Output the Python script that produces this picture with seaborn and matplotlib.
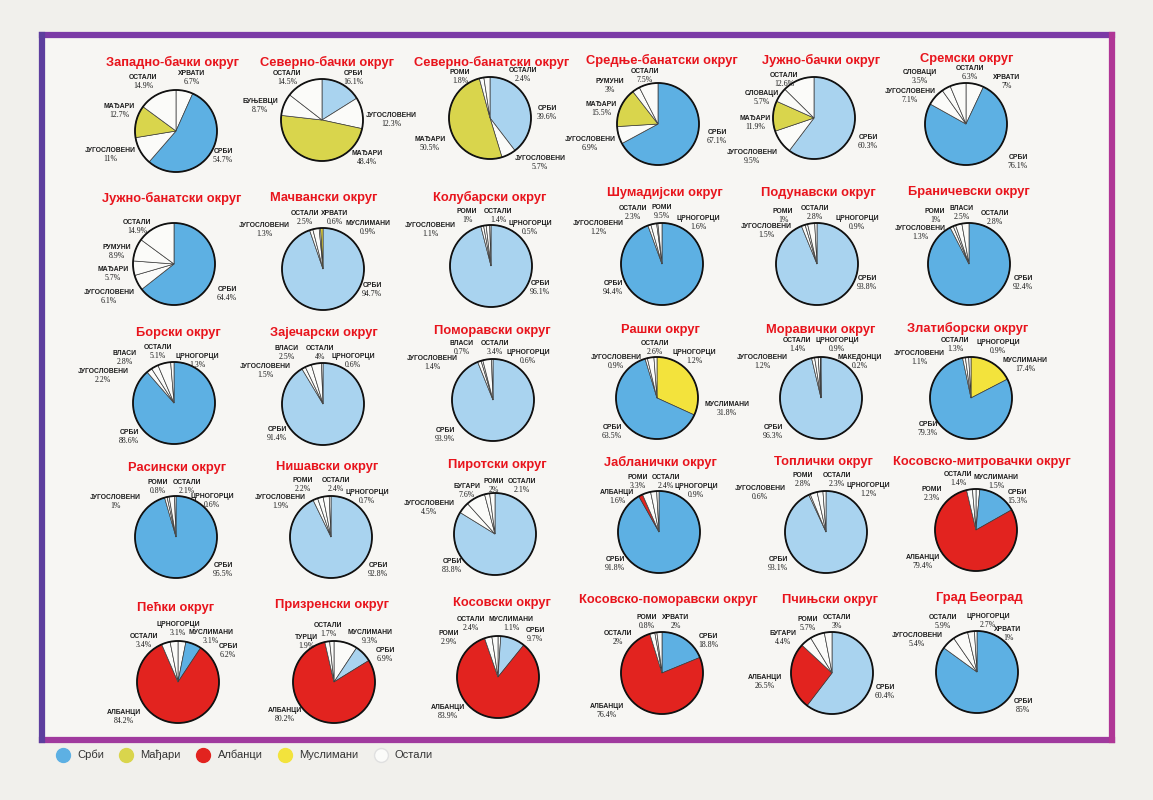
import matplotlib
matplotlib.use("Agg")
import matplotlib.pyplot as plt
from matplotlib.patches import Circle, Rectangle
from matplotlib.lines import Line2D
import seaborn as sns

# districts, ethnic groups (clockwise from 12 o'clock) and shares in %
districts = [
    "Западно-бачки округ", "Северно-бачки округ", "Северно-банатски округ",
    "Средње-банатски округ", "Јужно-бачки округ", "Сремски округ",
    "Јужно-банатски округ", "Мачвански округ", "Колубарски округ",
    "Шумадијски округ", "Подунавски округ", "Браничевски округ",
    "Борски округ", "Зајечарски округ", "Поморавски округ",
    "Рашки округ", "Моравички округ", "Златиборски округ",
    "Расински округ", "Нишавски округ", "Пиротски округ",
    "Јабланички округ", "Топлички округ", "Косовско-митровачки округ",
    "Пећки округ", "Призренски округ", "Косовски округ",
    "Косовско-поморавски округ", "Пчињски округ", "Град Београд",
]
groups = [
    ["ХРВАТИ", "СРБИ", "ЈУГОСЛОВЕНИ", "МАЂАРИ", "ОСТАЛИ"],
    ["СРБИ", "ЈУГОСЛОВЕНИ", "МАЂАРИ", "БУЊЕВЦИ", "ОСТАЛИ"],
    ["СРБИ", "ЈУГОСЛОВЕНИ", "МАЂАРИ", "РОМИ", "ОСТАЛИ"],
    ["СРБИ", "ЈУГОСЛОВЕНИ", "МАЂАРИ", "РУМУНИ", "ОСТАЛИ"],
    ["СРБИ", "ЈУГОСЛОВЕНИ", "МАЂАРИ", "СЛОВАЦИ", "ОСТАЛИ"],
    ["ХРВАТИ", "СРБИ", "ЈУГОСЛОВЕНИ", "СЛОВАЦИ", "ОСТАЛИ"],
    ["СРБИ", "ЈУГОСЛОВЕНИ", "МАЂАРИ", "РУМУНИ", "ОСТАЛИ"],
    ["СРБИ", "ЈУГОСЛОВЕНИ", "ОСТАЛИ", "ХРВАТИ", "МУСЛИМАНИ"],
    ["СРБИ", "ЈУГОСЛОВЕНИ", "РОМИ", "ОСТАЛИ", "ЦРНОГОРЦИ"],
    ["СРБИ", "ЈУГОСЛОВЕНИ", "ОСТАЛИ", "РОМИ", "ЦРНОГОРЦИ"],
    ["СРБИ", "ЈУГОСЛОВЕНИ", "РОМИ", "ОСТАЛИ", "ЦРНОГОРЦИ"],
    ["СРБИ", "ЈУГОСЛОВЕНИ", "РОМИ", "ВЛАСИ", "ОСТАЛИ"],
    ["СРБИ", "ЈУГОСЛОВЕНИ", "ВЛАСИ", "ОСТАЛИ", "ЦРНОГОРЦИ"],
    ["СРБИ", "ЈУГОСЛОВЕНИ", "ВЛАСИ", "ОСТАЛИ", "ЦРНОГОРЦИ"],
    ["СРБИ", "ЈУГОСЛОВЕНИ", "ВЛАСИ", "ОСТАЛИ", "ЦРНОГОРЦИ"],
    ["МУСЛИМАНИ", "СРБИ", "ЈУГОСЛОВЕНИ", "ОСТАЛИ", "ЦРНОГОРЦИ"],
    ["СРБИ", "ЈУГОСЛОВЕНИ", "ОСТАЛИ", "ЦРНОГОРЦИ", "МАКЕДОНЦИ"],
    ["МУСЛИМАНИ", "СРБИ", "ЈУГОСЛОВЕНИ", "ОСТАЛИ", "ЦРНОГОРЦИ"],
    ["СРБИ", "ЈУГОСЛОВЕНИ", "РОМИ", "ОСТАЛИ", "ЦРНОГОРЦИ"],
    ["СРБИ", "ЈУГОСЛОВЕНИ", "РОМИ", "ОСТАЛИ", "ЦРНОГОРЦИ"],
    ["СРБИ", "ЈУГОСЛОВЕНИ", "БУГАРИ", "РОМИ", "ОСТАЛИ"],
    ["СРБИ", "АЛБАНЦИ", "РОМИ", "ОСТАЛИ", "ЦРНОГОРЦИ"],
    ["СРБИ", "ЈУГОСЛОВЕНИ", "РОМИ", "ОСТАЛИ", "ЦРНОГОРЦИ"],
    ["МУСЛИМАНИ", "СРБИ", "АЛБАНЦИ", "РОМИ", "ОСТАЛИ"],
    ["МУСЛИМАНИ", "СРБИ", "АЛБАНЦИ", "ОСТАЛИ", "ЦРНОГОРЦИ"],
    ["МУСЛИМАНИ", "СРБИ", "АЛБАНЦИ", "ТУРЦИ", "ОСТАЛИ"],
    ["МУСЛИМАНИ", "СРБИ", "АЛБАНЦИ", "РОМИ", "ОСТАЛИ"],
    ["СРБИ", "АЛБАНЦИ", "ОСТАЛИ", "РОМИ", "ХРВАТИ"],
    ["СРБИ", "АЛБАНЦИ", "БУГАРИ", "РОМИ", "ОСТАЛИ"],
    ["СРБИ", "ЈУГОСЛОВЕНИ", "ОСТАЛИ", "ЦРНОГОРЦИ", "ХРВАТИ"],
]
shares = [
    [6.7, 54.7, 11, 12.7, 14.9],
    [16.1, 12.3, 48.4, 8.7, 14.5],
    [39.6, 5.7, 50.5, 1.8, 2.4],
    [67.1, 6.9, 15.5, 3, 7.5],
    [60.3, 9.5, 11.9, 5.7, 12.6],
    [7, 76.1, 7.1, 3.5, 6.3],
    [64.4, 6.1, 5.7, 8.9, 14.9],
    [94.7, 1.3, 2.5, 0.6, 0.9],
    [96.1, 1.1, 1, 1.4, 0.5],
    [94.4, 1.2, 2.3, 0.5, 1.6],
    [93.8, 1.5, 1, 2.8, 0.9],
    [92.4, 1.3, 1, 2.5, 2.8],
    [88.6, 2.2, 2.8, 5.1, 1.3],
    [91.4, 1.5, 2.5, 4, 0.6],
    [93.9, 1.4, 0.7, 3.4, 0.6],
    [31.8, 63.5, 0.9, 2.6, 1.2],
    [96.3, 1.2, 1.4, 0.9, 0.2],
    [17.4, 79.3, 1.1, 1.3, 0.9],
    [95.5, 1, 0.8, 2.1, 0.6],
    [92.8, 1.9, 2.2, 2.4, 0.7],
    [83.8, 4.5, 7.6, 2, 2.1],
    [91.8, 1.6, 3.3, 2.4, 0.9],
    [93.1, 0.6, 2.8, 2.3, 1.2],
    [1.5, 15.3, 79.4, 2.3, 1.4],
    [3.1, 6.2, 84.2, 3.4, 3.1],
    [9.3, 6.9, 80.2, 1.9, 1.7],
    [1.1, 9.7, 83.9, 2.9, 2.4],
    [18.8, 76.4, 2, 0.8, 2],
    [60.4, 26.5, 4.4, 5.7, 3],
    [85, 5.4, 5.9, 2.7, 1],
]
# the map prints 9.5% for Roma in Šumadija, the wedge itself is 0.5%
printed_labels = {("Шумадијски округ", "РОМИ"): "9.5%"}

legend_names = ["Срби", "Мађари", "Албанци", "Муслимани", "Остали"]

# ---- layout (pixels on the 1153x800 sheet) ----
centers = [(176, 131), (322, 120), (490, 118), (658, 124), (814, 118), (966, 124),
           (174, 264), (323, 269), (491, 266), (662, 264), (817, 264), (969, 264),
           (174, 403), (323, 404), (493, 400), (657, 398), (821, 398), (971, 398),
           (176, 537), (331, 537), (495, 534), (659, 532), (826, 532), (976, 530),
           (178, 682), (334, 682), (498, 677), (662, 673), (832, 673), (977, 672)]
title_pos = [(172, 62), (327, 62), (492, 62), (662, 60), (821, 60), (967, 59),
             (172, 198), (324, 198), (490, 197), (665, 193), (818, 193), (969, 192),
             (178, 333), (324, 333), (492, 331), (660, 330), (821, 330), (968, 328),
             (177, 468), (327, 467), (497, 465), (660, 462), (823, 462), (982, 462),
             (176, 608), (332, 605), (502, 603), (668, 600), (830, 600), (979, 598)]
label_offsets = [
    [(16, -53), (47, 25), (-66, 24), (-57, -20), (-33, -49)],
    [(31, -42), (69, 0), (45, 38), (-62, -14), (-35, -42)],
    [(57, -5), (50, 45), (-60, 26), (-30, -41), (33, -43)],
    [(59, 13), (-68, 20), (-57, -15), (-48, -38), (-13, -48)],
    [(54, 24), (-62, 39), (-59, 5), (-52, -20), (-30, -38)],
    [(41, -42), (52, 38), (-56, -28), (-46, -47), (4, -51)],
    [(53, 30), (-65, 33), (-61, 10), (-57, -12), (-37, -37)],
    [(49, 21), (-59, -39), (-18, -51), (12, -51), (45, -41)],
    [(49, 22), (-61, -36), (-24, -50), (7, -50), (39, -38)],
    [(-49, 24), (-64, -36), (-29, -51), (0, -52), (36, -41)],
    [(50, 19), (-51, -33), (-34, -48), (-2, -51), (40, -41)],
    [(54, 19), (-49, -31), (-34, -48), (-7, -51), (26, -46)],
    [(-45, 34), (-71, -27), (-49, -45), (-16, -51), (23, -42)],
    [(-46, 30), (-58, -33), (-36, -51), (-3, -51), (30, -43)],
    [(-48, 35), (-61, -37), (-31, -52), (2, -52), (35, -43)],
    [(70, 11), (-45, 34), (-41, -36), (-2, -50), (37, -41)],
    [(-48, 34), (-59, -36), (-24, -53), (16, -53), (39, -36)],
    [(54, -33), (-43, 31), (-52, -40), (-16, -53), (27, -51)],
    [(47, 33), (-61, -35), (-18, -50), (11, -50), (36, -36)],
    [(47, 33), (-51, -35), (-28, -52), (5, -52), (36, -40)],
    [(-43, 32), (-66, -26), (-28, -43), (-1, -48), (27, -48)],
    [(-44, 32), (-42, -35), (-21, -50), (7, -50), (37, -41)],
    [(-48, 32), (-66, -39), (-23, -52), (11, -52), (42, -42)],
    [(20, -48), (41, -33), (-53, 32), (-44, -36), (-18, -51)],
    [(33, -45), (50, -31), (-54, 35), (-34, -41), (0, -53)],
    [(36, -45), (51, -27), (-49, 33), (-28, -40), (-6, -52)],
    [(13, -53), (37, -42), (-50, 35), (-49, -39), (-27, -53)],
    [(46, -32), (-55, 38), (-44, -35), (-15, -51), (14, -51)],
    [(53, 19), (-67, 9), (-49, -35), (-24, -49), (5, -51)],
    [(46, 34), (-60, -32), (-34, -50), (11, -51), (31, -38)],
]
R = 41

# colours
light_blue = "#a9d3ef"
dark_blue = "#5db0e3"
dark_blue_districts = {
    "Западно-бачки округ", "Средње-банатски округ", "Сремски округ",
    "Јужно-банатски округ", "Шумадијски округ", "Браничевски округ",
    "Борски округ", "Рашки округ", "Златиборски округ", "Расински округ",
    "Јабланички округ", "Косовско-митровачки округ", "Пећки округ",
    "Косовско-поморавски округ", "Град Београд",
}
group_colors = {"МАЂАРИ": "#d9d54c", "АЛБАНЦИ": "#e2231f", "МУСЛИМАНИ": "#f3e33c"}
white = "#fbfbf9"
plain_slices = {("Јужно-банатски округ", "МАЂАРИ"), ("Пећки округ", "МУСЛИМАНИ"),
                ("Призренски округ", "МУСЛИМАНИ"), ("Косовски округ", "МУСЛИМАНИ"),
                ("Косовско-митровачки округ", "МУСЛИМАНИ")}


def slice_color(district, group):
    if (district, group) in plain_slices:
        return white
    if group == "СРБИ":
        return dark_blue if district in dark_blue_districts else light_blue
    return group_colors.get(group, white)


sns.set_theme(style="white")
plt.rcParams["font.family"] = ["Liberation Sans", "DejaVu Sans"]

fig = plt.figure(figsize=(11.53, 8.0), dpi=100, facecolor="#f1f0ec")
ax = fig.add_axes([0, 0, 1, 1])
ax.set_facecolor("#f1f0ec")

# sheet frame
ax.add_patch(Rectangle((42, 35), 1070, 705, facecolor="#f7f6f3", edgecolor="none", zorder=0))
ax.plot([42, 1112], [35, 35], color="#7b3aa6", lw=4.5, solid_capstyle="projecting", zorder=1)
ax.plot([42, 1112], [740, 740], color="#a03a9e", lw=4.5, solid_capstyle="projecting", zorder=1)
ax.plot([42, 42], [35, 740], color="#5d3e9e", lw=4.5, solid_capstyle="projecting", zorder=1)
ax.plot([1112, 1112], [35, 740], color="#b03696", lw=4.5, solid_capstyle="projecting", zorder=1)

for i, name in enumerate(districts):
    cx, cy = centers[i]
    cols = [slice_color(name, g) for g in groups[i]]
    ax.pie(shares[i], colors=cols, center=(cx, cy), radius=R, startangle=-90,
           counterclock=True, frame=True,
           wedgeprops=dict(edgecolor="#3c3c3c", linewidth=0.5))
    ax.add_patch(Circle((cx, cy), R, fill=False, edgecolor="#111111", lw=1.3, zorder=3))
    tx, ty = title_pos[i]
    ax.text(tx, ty, name, color="#e8141c", fontsize=9.3, fontweight="bold",
            ha="center", va="center")
    for g, v, (dx, dy) in zip(groups[i], shares[i], label_offsets[i]):
        pct = printed_labels.get((name, g), f"{v:g}%")
        ax.text(cx + dx, cy + dy - 4.3, g, fontsize=4.9, ha="center", va="center",
                color="#1c1c1c", fontweight="bold")
        ax.text(cx + dx, cy + dy + 4.3, pct, fontsize=5.6, ha="center", va="center",
                color="#1c1c1c", family=["Liberation Serif", "DejaVu Serif"])

ax.set_xlim(0, 1153)
ax.set_ylim(800, 0)
ax.set_aspect("equal")
ax.set_axis_off()

# legend
legend_colors = [dark_blue, group_colors["МАЂАРИ"], group_colors["АЛБАНЦИ"],
                 group_colors["МУСЛИМАНИ"], white]
handles = [Line2D([], [], marker="o", linestyle="none", markersize=10,
                  markerfacecolor=c, markeredgecolor="#e0e0e0" if c == white else c)
           for c in legend_colors]
ax.legend(handles, legend_names, loc="center left", bbox_to_anchor=(0.036, 0.056),
          ncol=5, frameon=False, fontsize=8, handletextpad=0.3, columnspacing=1.0,
          labelcolor="#333333")

fig.savefig("out.png", dpi=100, facecolor=fig.get_facecolor())
